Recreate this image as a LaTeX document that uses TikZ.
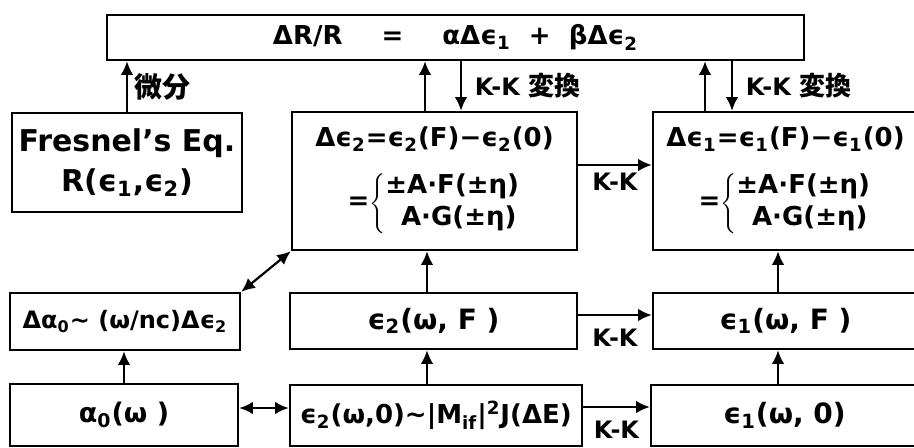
\documentclass[tikz,border=0pt]{standalone}
\usepackage{fontspec}
\setmainfont{DejaVu Sans}
\newfontfamily\cjk{Noto Sans CJK JP}
\usetikzlibrary{positioning,arrows.meta}
\newcommand\lo[1]{\textsubscript{#1}}
\tikzset{box/.style={draw,rectangle,line width=1.2pt,inner sep=2pt,align=center,font=\bfseries\fontsize{14}{17}\selectfont},
arr/.style={-{Latex[length=2.4mm,width=2.2mm]},line width=1.1pt},
dbl/.style={{Latex[length=2.4mm,width=2.2mm]}-{Latex[length=2.4mm,width=2.2mm]},line width=1.1pt},
lab/.style={font=\bfseries\fontsize{12}{14}\selectfont},
mid/.style={font=\bfseries\fontsize{13}{16}\selectfont}}

\begin{document}
\begin{tikzpicture}[x=0.5pt,y=-0.5pt]
\useasboundingbox (0,0) rectangle (914,447);
\node[box,minimum width=348.5pt,minimum height=22.5pt,font=\bfseries\fontsize{13}{15}\selectfont] (eq) at (455.5,37.5) {ΔR/R\hspace{1.5em}=\hspace{1.5em}αΔϵ\lo{1}\hspace{0.7em}+\hspace{0.7em}βΔϵ\lo{2}};
\node[box,minimum width=115pt,minimum height=49.5pt,font=\bfseries\fontsize{15}{20}\selectfont] (fresnel) at (127,162.5) {Fresnel’s Eq.\\R(ϵ\lo{1},ϵ\lo{2})};
\node[box,mid,minimum width=142.5pt,minimum height=69pt] (de2) at (434.5,181) {Δϵ\lo{2}=ϵ\lo{2}(F)−ϵ\lo{2}(0)\\[9pt]
=$\left\{\mbox{\begin{tabular}{@{}l@{}}±A·F(±η)\\\hspace{0.6em}A·G(±η)\end{tabular}}\right.$};
\node[box,mid,minimum width=132.5pt,minimum height=69pt] (de1) at (785.5,181) {Δϵ\lo{1}=ϵ\lo{1}(F)−ϵ\lo{1}(0)\\[9pt]
=$\left\{\mbox{\begin{tabular}{@{}l@{}}±A·F(±η)\\\hspace{0.6em}A·G(±η)\end{tabular}}\right.$};
\node[box,minimum width=115pt,minimum height=28.5pt,font=\bfseries\fontsize{12}{14}\selectfont] (dalpha) at (125,321.5) {Δα\lo{0}∼ (ω/nc)Δϵ\lo{2}};
\node[box,minimum width=143.5pt,minimum height=28pt] (e2F) at (433.5,321) {ϵ\lo{2}(ω, F )};
\node[box,minimum width=132.5pt,minimum height=28pt] (e1F) at (785.5,321) {ϵ\lo{1}(ω, F )};
\node[box,minimum width=114pt,minimum height=31pt,font=\bfseries\fontsize{13.5}{15}\selectfont] (alpha0) at (124,415) {α\lo{0}(ω )};
\node[box,minimum width=146pt,minimum height=30.5pt,font=\bfseries\fontsize{13}{15}\selectfont] (e20) at (436,415.5) {ϵ\lo{2}(ω,0)∼|M\lo{if}|\textsuperscript{2}J(ΔE)};
\node[box,minimum width=133.5pt,minimum height=30.5pt] (e10) at (784.5,415.5) {ϵ\lo{1}(ω, 0)};

\coordinate (up2) at ([xshift=-4.75pt]de2.north);
\coordinate (dn2) at ([xshift=13.25pt]de2.north);
\coordinate (up1) at ([xshift=-40.25pt]de1.north);
\coordinate (dn1) at ([xshift=-26.75pt]de1.north);
\draw[arr] (fresnel.north) -- (fresnel.north |- eq.south) node[midway,right,font=\cjk\bfseries\fontsize{14}{16}\selectfont] {微分};
\draw[arr] (up2) -- (up2 |- eq.south);
\draw[arr] (dn2 |- eq.south) -- (dn2) node[midway,right,xshift=3pt,lab] {K-K {\cjk\fontsize{13}{15}\selectfont 変換}};
\draw[arr] (up1) -- (up1 |- eq.south);
\draw[arr] (dn1 |- eq.south) -- (dn1) node[midway,right,xshift=3pt,lab] {K-K {\cjk\fontsize{13}{15}\selectfont 変換}};

\coordinate (kk1) at ([yshift=8pt]de2.east);
\coordinate (kk2) at ([yshift=3pt]e2F.east);
\coordinate (kk3) at ([yshift=4.25pt]e20.east);
\coordinate (ae) at ([yshift=3.5pt]alpha0.east);
\draw[arr] (kk1) -- (kk1 -| de1.west) node[midway,below,lab] {K-K};
\draw[arr] (kk2) -- (kk2 -| e1F.west) node[midway,below=3pt,lab] {K-K};
\draw[arr] (kk3) -- (kk3 -| e10.west) node[midway,below=3pt,lab] {K-K};
\draw[dbl] (ae) -- (ae -| e20.west);
\draw[dbl] (dalpha.north east) -- (de2.south west);

\coordinate (v2) at ([xshift=-3.25pt]e2F.north);
\coordinate (w2) at ([xshift=-4.5pt]e20.north);
\coordinate (v1) at ([xshift=-3.75pt]e1F.north);
\coordinate (w1) at ([xshift=-3.25pt]e10.north);
\draw[arr] (alpha0.north) -- (alpha0.north |- dalpha.south);
\draw[arr] (v2) -- (v2 |- de2.south);
\draw[arr] (w2) -- (w2 |- e2F.south);
\draw[arr] (v1) -- (v1 |- de1.south);
\draw[arr] (w1) -- (w1 |- e1F.south);
\end{tikzpicture}
\end{document}
